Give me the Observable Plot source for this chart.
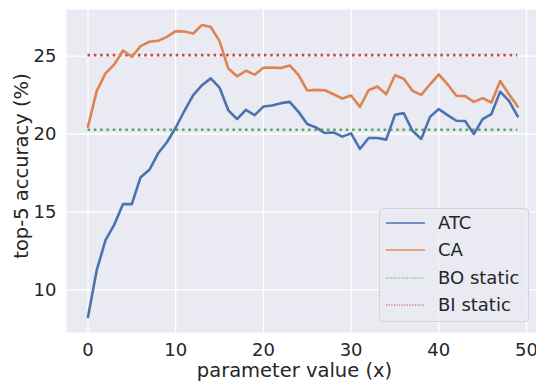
<!DOCTYPE html>
<html>
<head>
<meta charset="utf-8">
<script src="https://cdn.jsdelivr.net/npm/d3@7"></script>
<script src="https://cdn.jsdelivr.net/npm/@observablehq/plot@0.6"></script>
<style>
  html, body { margin: 0; padding: 0; background: #fff; }
  #wrap { position: relative; width: 536px; height: 381px; font-family: "DejaVu Sans", sans-serif; }
  #legend { position: absolute; left: 379px; top: 208px; width: 150px; height: 114px; box-sizing: border-box;
    background: rgba(234,234,242,0.8); border: 1px solid #d4d4d8; border-radius: 4px; }
  .row { position: absolute; left: 0; height: 20px; display: flex; align-items: center; }
  .row svg { position: absolute; left: 6px; }
  .row span { position: absolute; left: 58px; font-size: 18px; color: #262626; white-space: nowrap; line-height: 20px; top: 0; }
</style>
</head>
<body>
<div id="wrap"></div>
<script>
// data
const ATC = [8.25, 11.27, 13.19, 14.19, 15.5, 15.5, 17.23, 17.7, 18.76, 19.47,
             20.4, 21.49, 22.5, 23.13, 23.57, 22.98, 21.52, 20.96, 21.55, 21.21,
             21.76, 21.83, 21.98, 22.06, 21.42, 20.64, 20.42, 20.06, 20.1, 19.83,
             20.04, 19.04, 19.74, 19.74, 19.64, 21.23, 21.34, 20.21, 19.68, 21.1,
             21.6, 21.21, 20.85, 20.83, 20.0, 20.96, 21.28, 22.72, 22.13, 21.13];
const CA = [20.47, 22.77, 23.89, 24.47, 25.36, 24.96, 25.64, 25.92, 25.98, 26.23,
            26.6, 26.58, 26.45, 27.0, 26.87, 25.96, 24.2, 23.7, 24.06, 23.81,
            24.25, 24.27, 24.23, 24.4, 23.79, 22.79, 22.83, 22.81, 22.55, 22.28,
            22.47, 21.74, 22.81, 23.05, 22.55, 23.77, 23.55, 22.77, 22.51, 23.19,
            23.83, 23.19, 22.45, 22.43, 22.06, 22.3, 22.02, 23.4, 22.55, 21.76];
const params = d3.range(ATC.length);
const BO_STATIC = 20.27;
const BI_STATIC = 25.06;
const xTicks = [0, 10, 20, 30, 40, 50];
const yTicks = [10, 15, 20, 25];
const seriesNames = ["ATC", "CA", "BO static", "BI static"];
const colors = ["#4c72b0", "#dd8452", "#55a868", "#c44e52"];
const xLabel = "parameter value (x)";
const yLabel = "top-5 accuracy (%)";

const atcData = params.map((p, i) => ({x: p, y: ATC[i]}));
const caData = params.map((p, i) => ({x: p, y: CA[i]}));
const xFirst = params[0], xLast = params[params.length - 1];

const chart = Plot.plot({
  width: 536,
  height: 381,
  marginLeft: 66,
  marginRight: 0,
  marginTop: 9,
  marginBottom: 49,
  style: {fontFamily: "DejaVu Sans, sans-serif", fontSize: "18px", color: "#262626", background: "#fff"},
  x: {domain: [-2.45, 51.14]},
  y: {domain: [7.26, 27.99]},
  marks: [
    Plot.frame({fill: "#eaeaf2", stroke: null}),
    Plot.gridX(xTicks, {stroke: "#fff", strokeOpacity: 1, strokeWidth: 1.3}),
    Plot.gridY(yTicks, {stroke: "#fff", strokeOpacity: 1, strokeWidth: 1.3}),
    Plot.axisX(xTicks, {tickSize: 0, tickPadding: 11, fontSize: 18, fill: "#262626", label: null}),
    Plot.axisY(yTicks, {tickSize: 0, tickPadding: 10, fontSize: 18, fill: "#262626", label: null}),
    Plot.ruleY([BO_STATIC], {x1: xFirst, x2: xLast, stroke: colors[2], strokeWidth: 2.6, strokeDasharray: "2.6,3.7"}),
    Plot.ruleY([BI_STATIC], {x1: xFirst, x2: xLast, stroke: colors[3], strokeWidth: 2.6, strokeDasharray: "2.6,3.7"}),
    Plot.line(atcData, {x: "x", y: "y", stroke: colors[0], strokeWidth: 2.6}),
    Plot.line(caData, {x: "x", y: "y", stroke: colors[1], strokeWidth: 2.6}),
    Plot.text([xLabel], {frameAnchor: "bottom", text: d => d, textAnchor: "middle", dx: -7, dy: 38, fontSize: 19.5, fill: "#262626", lineAnchor: "middle"}),
    Plot.text([yLabel], {frameAnchor: "left", text: d => d, textAnchor: "middle", rotate: -90, dx: -45, dy: -5, fontSize: 19.5, fill: "#262626", lineAnchor: "middle"})
  ]
});

const wrap = document.getElementById("wrap");
wrap.appendChild(chart);

// legend
const legend = document.createElement("div");
legend.id = "legend";
const rowStyles = [
  {w: 1.4, dash: null, op: 1},
  {w: 2.2, dash: null, op: 0.7},
  {w: 1.2, dash: "1.2,1.4", op: 1},
  {w: 1.2, dash: "1.2,1.4", op: 1}
];
seriesNames.forEach((name, i) => {
  const row = document.createElement("div");
  row.className = "row";
  row.style.top = (4 + i * 27.3) + "px";
  row.style.width = "100%";
  const s = rowStyles[i];
  row.innerHTML = `<svg width="40" height="20"><line x1="0" x2="39" y1="10" y2="10" stroke="${colors[i]}" stroke-width="${s.w}" stroke-opacity="${s.op}" ${s.dash ? `stroke-dasharray="${s.dash}"` : ""}/></svg><span>${name}</span>`;
  legend.appendChild(row);
});
wrap.appendChild(legend);
</script>
</body>
</html>
